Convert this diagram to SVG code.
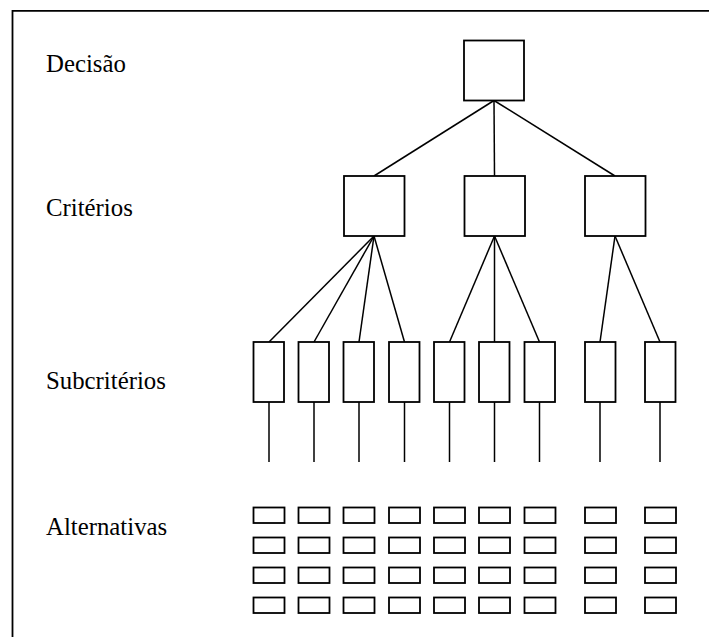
<svg xmlns="http://www.w3.org/2000/svg" width="709" height="637" viewBox="0 0 709 637">
<style>
.b{fill:#fff;stroke:#000;stroke-width:1.8}
.c line{stroke:#000;stroke-width:1.5}
.f{fill:none;stroke:#000;stroke-width:1.8}
</style>
<rect width="709" height="637" fill="#fff"/>
<path class="f" d="M12.5,640 V10.8 H712"/>
<g id="labels" font-family="'Liberation Serif', 'Times New Roman', 'DejaVu Serif', serif" font-size="24.8" fill="#000">
<text x="46" y="72">Decisão</text>
<text x="46" y="216">Critérios</text>
<text x="46" y="389">Subcritérios</text>
<text x="46" y="535">Alternativas</text>
</g>
<g id="connectors" class="c">
<line x1="494" y1="100.5" x2="374" y2="176"/>
<line x1="494" y1="100.5" x2="494.5" y2="176"/>
<line x1="494" y1="100.5" x2="615" y2="176"/>
<line x1="374" y1="236" x2="269" y2="342"/>
<line x1="374" y1="236" x2="314" y2="342"/>
<line x1="374" y1="236" x2="359" y2="342"/>
<line x1="374" y1="236" x2="404.5" y2="342"/>
<line x1="494.5" y1="236" x2="449.5" y2="342"/>
<line x1="494.5" y1="236" x2="494.5" y2="342"/>
<line x1="494.5" y1="236" x2="539.5" y2="342"/>
<line x1="615" y1="236" x2="600" y2="342"/>
<line x1="615" y1="236" x2="660" y2="342"/>
<line x1="269" y1="402" x2="269" y2="462"/>
<line x1="314" y1="402" x2="314" y2="462"/>
<line x1="359" y1="402" x2="359" y2="462"/>
<line x1="404.5" y1="402" x2="404.5" y2="462"/>
<line x1="449.5" y1="402" x2="449.5" y2="462"/>
<line x1="494.5" y1="402" x2="494.5" y2="462"/>
<line x1="539.5" y1="402" x2="539.5" y2="462"/>
<line x1="600" y1="402" x2="600" y2="462"/>
<line x1="660" y1="402" x2="660" y2="462"/>
</g>
<g id="decisao"><rect class="b" x="464" y="40.5" width="60" height="60"/></g>
<g id="criterio1"><rect class="b" x="344" y="176" width="60.5" height="60"/></g>
<g id="criterio2"><rect class="b" x="464.5" y="176" width="60.5" height="60"/></g>
<g id="criterio3"><rect class="b" x="585" y="176" width="60.5" height="60"/></g>
<g id="sub1"><rect class="b" x="253.5" y="342" width="30.5" height="60"/></g>
<g id="sub2"><rect class="b" x="298.5" y="342" width="30.5" height="60"/></g>
<g id="sub3"><rect class="b" x="343.5" y="342" width="30.5" height="60"/></g>
<g id="sub4"><rect class="b" x="389" y="342" width="30.5" height="60"/></g>
<g id="sub5"><rect class="b" x="434" y="342" width="30.5" height="60"/></g>
<g id="sub6"><rect class="b" x="479" y="342" width="30.5" height="60"/></g>
<g id="sub7"><rect class="b" x="524.5" y="342" width="30.5" height="60"/></g>
<g id="sub8"><rect class="b" x="585" y="342" width="30.5" height="60"/></g>
<g id="sub9"><rect class="b" x="645" y="342" width="30.5" height="60"/></g>
<defs><g id="col"><rect class="b" x="0" y="0" width="31" height="15.5"/><rect class="b" x="0" y="30" width="31" height="15.5"/><rect class="b" x="0" y="60" width="31" height="15.5"/><rect class="b" x="0" y="90" width="31" height="15.5"/></g></defs>
<g id="alternativas">
<use href="#col" x="253.5" y="507.5"/>
<use href="#col" x="298.5" y="507.5"/>
<use href="#col" x="343.5" y="507.5"/>
<use href="#col" x="389" y="507.5"/>
<use href="#col" x="434" y="507.5"/>
<use href="#col" x="479" y="507.5"/>
<use href="#col" x="524.5" y="507.5"/>
<use href="#col" x="585" y="507.5"/>
<use href="#col" x="645" y="507.5"/>
</g>
</svg>
